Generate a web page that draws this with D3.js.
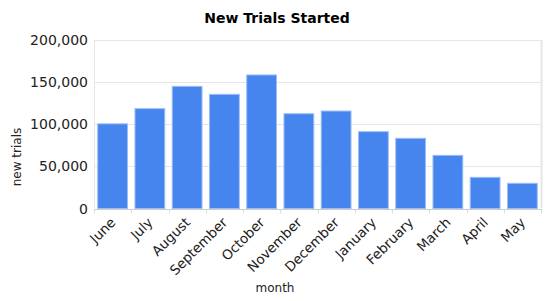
<!DOCTYPE html>
<html>
<head>
<meta charset="utf-8">
<script src="https://cdn.jsdelivr.net/npm/d3@7"></script>
<style>
    body { margin: 0; background: #fff; }
    text { font-family: "DejaVu Sans", sans-serif; }
</style>
</head>
<body>
<div id="chart"></div>
<script>
'use strict';

var months = ['June', 'July', 'August', 'September', 'October', 'November',
    'December', 'January', 'February', 'March', 'April', 'May'];
var newTrials = [100500, 118500, 145000, 135500, 158500, 112500,
    115700, 91200, 83300, 63100, 37000, 29900];
var yTicks = [0, 50000, 100000, 150000, 200000];

var width = 550,
    height = 301,
    margin = { top: 40, left: 94, right: 9, bottom: 92.5 };

var svg = d3.select('#chart').append('svg')
    .attr('width', width)
    .attr('height', height);

var x = d3.scaleBand()
    .domain(months)
    .range([margin.left, width - margin.right])
    .paddingInner(0.2)
    .paddingOuter(0.1);

var y = d3.scaleLinear()
    .domain([0, 200000])
    .range([height - margin.bottom, margin.top]);

var fmt = d3.format(',');

//Gridlines
svg.append('g')
    .selectAll('line')
    .data(yTicks)
    .enter().append('line')
    .attr('x1', margin.left)
    .attr('x2', width - margin.right)
    .attr('y1', d => Math.round(y(d)) + 0.5)
    .attr('y2', d => Math.round(y(d)) + 0.5)
    .attr('stroke', '#e6e6e6');

//Right border
svg.append('line')
    .attr('x1', width - margin.right + 0.5)
    .attr('x2', width - margin.right + 0.5)
    .attr('y1', y(200000))
    .attr('y2', y(0))
    .attr('stroke', '#e6e6e6')
    .attr('stroke-width', 2);

//Left axis line
svg.append('line')
    .attr('x1', margin.left + 0.5)
    .attr('x2', margin.left + 0.5)
    .attr('y1', y(200000))
    .attr('y2', y(0))
    .attr('stroke', '#e6e6e6');

//Bars
svg.append('g')
    .selectAll('rect')
    .data(months)
    .enter().append('rect')
    .attr('x', d => x(d))
    .attr('width', x.bandwidth())
    .attr('y', (d, i) => y(newTrials[i]))
    .attr('height', (d, i) => y(0) - y(newTrials[i]))
    .attr('fill', '#4684ee')
    .attr('stroke', '#9dbdf5')
    .attr('stroke-width', 1);

//Bottom axis line and ticks between bands
var baseY = Math.round(y(0)) + 0.5;
svg.append('line')
    .attr('x1', margin.left)
    .attr('x2', width - margin.right + 1)
    .attr('y1', baseY)
    .attr('y2', baseY)
    .attr('stroke', '#cccccc');

var step = x.step();
svg.append('g')
    .selectAll('line')
    .data(d3.range(months.length + 1))
    .enter().append('line')
    .attr('x1', i => Math.round(margin.left + i * step) + 0.5)
    .attr('x2', i => Math.round(margin.left + i * step) + 0.5)
    .attr('y1', baseY)
    .attr('y2', baseY + 4)
    .attr('stroke', '#dddddd');

//Y tick labels
svg.append('g')
    .selectAll('text')
    .data(yTicks)
    .enter().append('text')
    .attr('x', margin.left - 6)
    .attr('y', d => y(d))
    .attr('dy', '0.36em')
    .attr('text-anchor', 'end')
    .attr('font-size', 14)
    .attr('fill', '#222')
    .text(d => fmt(d));

//X tick labels, rotated
svg.append('g')
    .selectAll('text')
    .data(months)
    .enter().append('text')
    .attr('transform', d => 'translate(' + (x(d) + x.bandwidth() / 2 - 1) + ',' + (y(0) + 10) + ') rotate(-45)')
    .attr('text-anchor', 'end')
    .attr('dy', '0.5em')
    .attr('font-size', 13.5)
    .attr('fill', '#222')
    .text(d => d);

//Title
svg.append('text')
    .attr('x', 277)
    .attr('y', 23)
    .attr('text-anchor', 'middle')
    .attr('font-size', 14)
    .attr('font-weight', 'bold')
    .attr('fill', '#000')
    .text('New Trials Started');

//Axis titles
svg.append('text')
    .attr('x', 275)
    .attr('y', 292)
    .attr('text-anchor', 'middle')
    .attr('font-size', 12)
    .attr('fill', '#222')
    .text('month');

svg.append('text')
    .attr('transform', 'translate(21,157) rotate(-90)')
    .attr('text-anchor', 'middle')
    .attr('font-size', 12)
    .attr('fill', '#222')
    .text('new trials');
</script>
</body>
</html>
